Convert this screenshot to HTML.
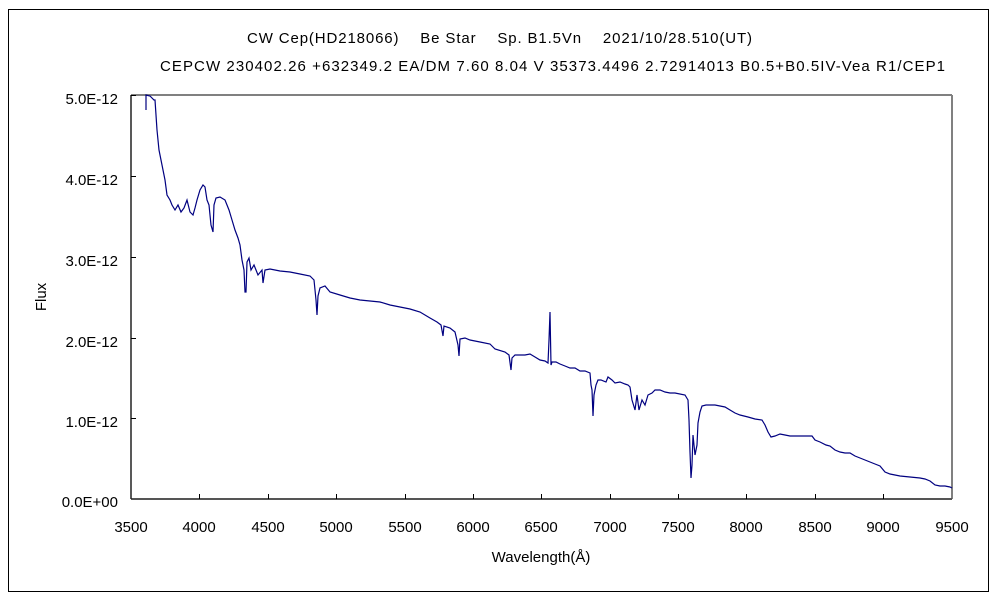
<!DOCTYPE html>
<html><head><meta charset="utf-8"><style>
body{margin:0;background:#fff;}
svg text{font-family:"Liberation Sans","Noto Sans CJK JP",sans-serif;fill:#000;}
</style></head><body>
<svg width="1000" height="600" viewBox="0 0 1000 600" xmlns="http://www.w3.org/2000/svg">
<rect x="0" y="0" width="1000" height="600" fill="#fff"/>
<rect x="8.5" y="9.5" width="980" height="582" fill="none" stroke="#000" stroke-width="1"/>
<text x="247" y="43" font-size="15" textLength="505" lengthAdjust="spacing">CW Cep(HD218066)　 Be Star　 Sp. B1.5Vn　 2021/10/28.510(UT)</text>
<text x="160" y="71" font-size="15" textLength="785" lengthAdjust="spacing">CEPCW 230402.26 +632349.2 EA/DM 7.60 8.04 V 35373.4496 2.72914013 B0.5+B0.5IV-Vea R1/CEP1</text>
<line x1="131" y1="95" x2="952" y2="95" stroke="#808080" stroke-width="2"/>
<line x1="952" y1="95" x2="952" y2="499" stroke="#808080" stroke-width="2"/>
<line x1="131" y1="499" x2="952" y2="499" stroke="#555" stroke-width="2"/>
<line x1="131" y1="95" x2="131" y2="499" stroke="#222" stroke-width="1.5"/>
<g stroke="#000" stroke-width="1">
<line x1="131" y1="95.5" x2="136" y2="95.5"/><line x1="131" y1="176.5" x2="136" y2="176.5"/><line x1="131" y1="257.5" x2="136" y2="257.5"/><line x1="131" y1="338.5" x2="136" y2="338.5"/><line x1="131" y1="418.5" x2="136" y2="418.5"/>
<line x1="199.5" y1="494" x2="199.5" y2="499"/><line x1="268.5" y1="494" x2="268.5" y2="499"/><line x1="336.5" y1="494" x2="336.5" y2="499"/><line x1="405.5" y1="494" x2="405.5" y2="499"/><line x1="473.5" y1="494" x2="473.5" y2="499"/><line x1="541.5" y1="494" x2="541.5" y2="499"/><line x1="610.5" y1="494" x2="610.5" y2="499"/><line x1="678.5" y1="494" x2="678.5" y2="499"/><line x1="746.5" y1="494" x2="746.5" y2="499"/><line x1="815.5" y1="494" x2="815.5" y2="499"/><line x1="883.5" y1="494" x2="883.5" y2="499"/>
</g>
<g font-size="15" text-anchor="end">
<text x="118" y="104">5.0E-12</text><text x="118" y="185">4.0E-12</text><text x="118" y="266">3.0E-12</text><text x="118" y="347">2.0E-12</text><text x="118" y="427">1.0E-12</text><text x="118" y="507">0.0E+00</text>
</g>
<g font-size="15" text-anchor="middle">
<text x="131" y="532">3500</text><text x="199" y="532">4000</text><text x="268" y="532">4500</text><text x="336" y="532">5000</text><text x="405" y="532">5500</text><text x="473" y="532">6000</text><text x="541" y="532">6500</text><text x="610" y="532">7000</text><text x="678" y="532">7500</text><text x="746" y="532">8000</text><text x="815" y="532">8500</text><text x="883" y="532">9000</text><text x="952" y="532">9500</text>
</g>
<text x="541" y="562" font-size="15" text-anchor="middle">Wavelength(Å)</text>
<text x="46" y="297" font-size="15" text-anchor="middle" transform="rotate(-90 46 297)">Flux</text>
<polyline fill="none" stroke="#000080" stroke-width="1.2" points="146,110 146,95 150,96 154,100 155,100 157,130 159,150 162,165 165,180 167,195 170,200 172,205 175,210 178,205 181,212 184,208 187,200 190,212 193,215 195,208 197,200 200,190 203,185 205,187 207,200 209,205 211,225 213,232 214,205 216,198 220,197 225,200 229,210 232,220 235,230 238,238 240,245 242,260 244,270 245,292 246,292 247,262 249,258 251,270 254,265 258,275 262,270 263,283 265,270 270,269 280,271 290,272 300,274 310,276 314,280 316,300 317,315 318,296 320,288 325,286 330,292 340,295 350,298 360,300 370,301 380,302 390,305 400,307 410,309 420,312 430,318 437,322 441,325 443,336 444,326 450,328 455,332 458,345 459,356 460,339 465,338 470,340 480,342 490,344 495,349 505,352 509,355 511,370 512,358 515,355 525,355 530,354 535,357 540,360 545,361 548,363 549,340 550,312 551,365 552,362 556,362 560,364 565,366 570,368 575,368 580,371 585,371 590,373 591,385 592,390 593,416 594,395 596,385 598,380 601,380 606,382 608,377 612,380 615,383 620,382 625,384 628,385 630,387 632,400 635,410 637,395 639,410 642,400 645,405 648,395 652,393 655,390 660,390 665,392 670,393 675,393 685,395 688,400 689,420 690,452 691,478 692,465 693,435 695,455 697,445 698,423 700,412 702,406 706,405 715,405 725,407 730,410 735,413 740,415 748,417 755,419 762,420 765,425 768,432 771,437 775,436 780,434 785,435 790,436 800,436 812,436 815,440 820,442 826,445 830,446 835,450 840,452 845,453 850,453 855,456 860,458 865,460 870,462 875,464 880,466 885,472 890,474 900,476 910,477 920,478 925,479 930,481 935,485 940,486 945,486 950,487 952,488"/>
</svg>
</body></html>
